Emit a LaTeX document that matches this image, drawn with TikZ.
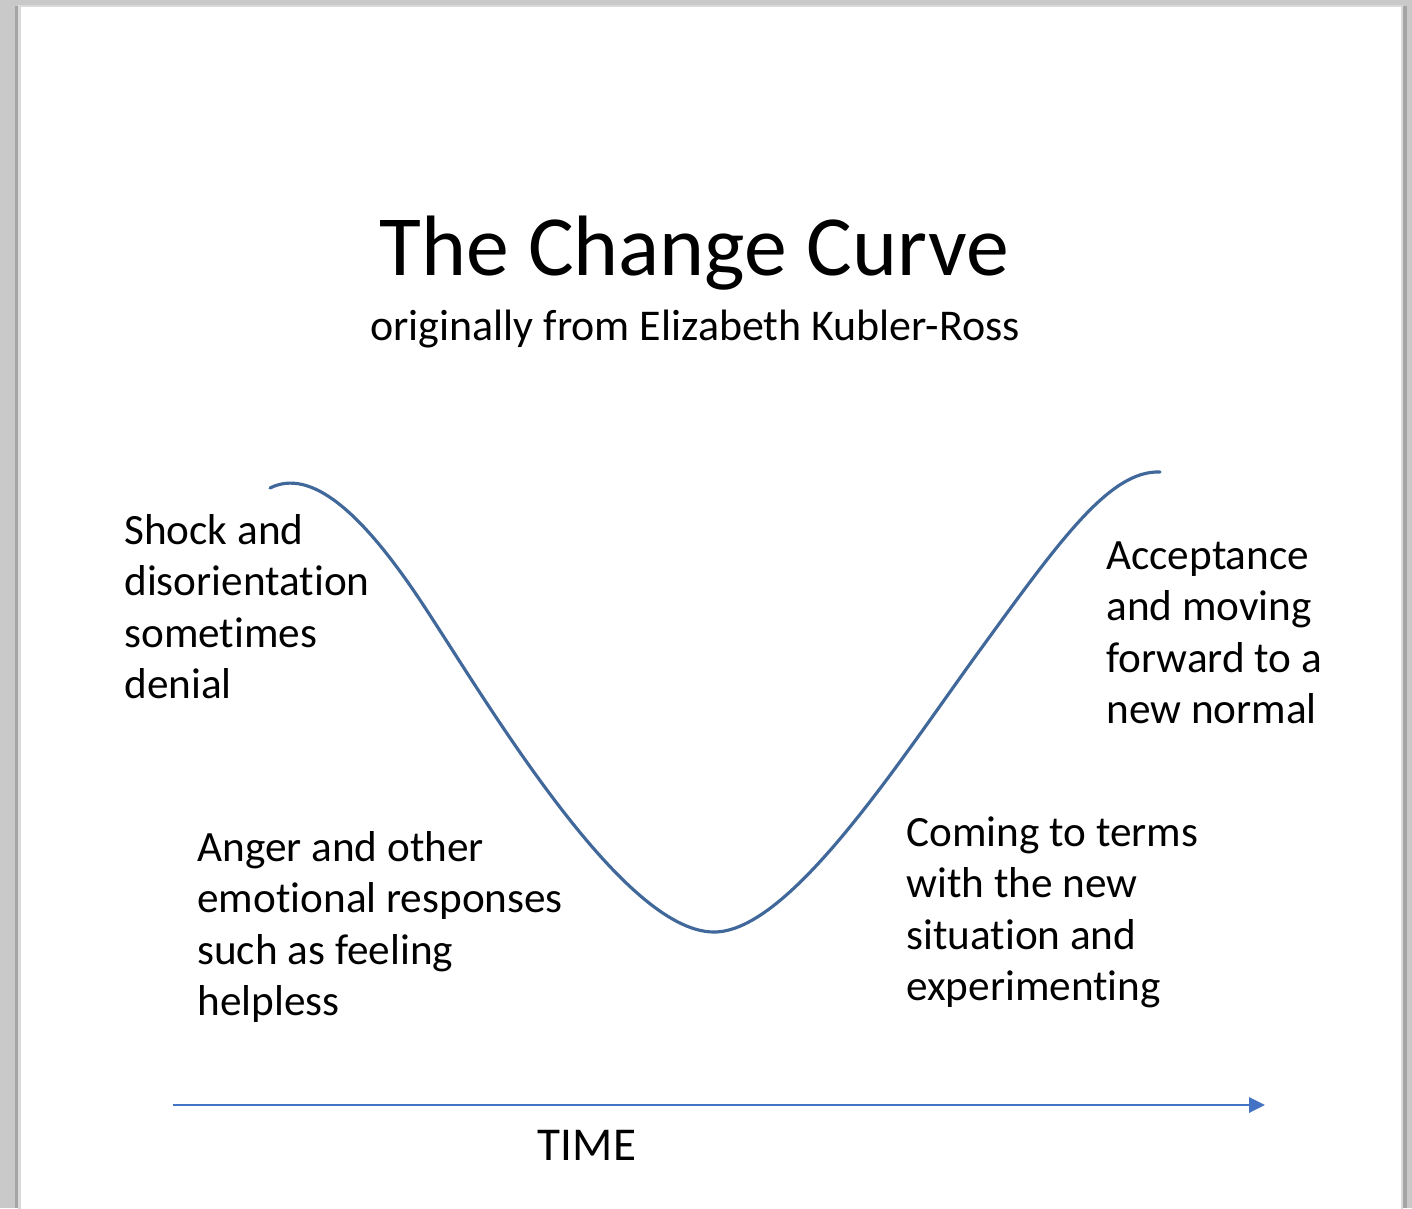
\documentclass[tikz,border=0pt]{standalone}
\usepackage{fontspec}
\setmainfont{Carlito}[Ligatures=NoCommon]
\usetikzlibrary{arrows.meta}

\definecolor{deskgray}{HTML}{C8C9C8}
\definecolor{shadowgray}{HTML}{A4A5A4}
\definecolor{pageedge}{HTML}{DADADA}
\definecolor{curveblue}{HTML}{41689A}
\definecolor{axisblue}{HTML}{4472C4}

\begin{document}
\begin{tikzpicture}[
  x=0.02cm, y=-0.02cm,
  label/.style={anchor=north west, inner sep=0pt, align=left,
    font=\fontsize{24.6}{29.3}\selectfont},
  curve/.style={draw=curveblue, line width=1.8pt, line cap=round},
  timeline/.style={draw=axisblue, line width=1.6pt,
    -{Triangle[length=9pt, width=8.5pt]}}
]
\useasboundingbox (0,0) rectangle (1412,1208);

% Page
\fill[deskgray] (0,0) rectangle (1412,1208);
\fill[shadowgray] (15,6) rectangle (1407,1208);
\fill[white, draw=pageedge, line width=1.2pt] (19.5,6) rectangle (1402,1230);

% Title
\node[anchor=base, inner sep=0pt, font=\fontsize{48.8}{58}\selectfont]
  (title) at (694,275) {The Change Curve};
\node[anchor=base, inner sep=0pt, font=\fontsize{25}{30}\selectfont]
  (subtitle) at (695,340) {originally from Elizabeth Kubler-Ross};

% Curve
\draw[curve] (270,488) .. controls (310,468) and (360,510) .. (420,600)
  .. controls (480,690) and (620,932) .. (714,932)
  .. controls (790,932) and (900,760) .. (980,650)
  .. controls (1060,540) and (1110,470) .. (1160,472);

% Stages
\node[label] (shock) at (124,514) {Shock and\\disorientation\\sometimes\\denial};
\node[label] (anger) at (197,831) {Anger and other\\emotional responses\\such as feeling\\helpless};
\node[label] (terms) at (906,816) {Coming to terms\\with the new\\situation and\\experimenting};
\node[label] (accept) at (1106,541) {Acceptance\\and moving\\forward to a\\new normal};

% Time axis
\coordinate (t0) at (173,1105);
\coordinate (t1) at (1265,1105);
\draw[timeline] (t0) -- (t1);
\node[anchor=base, inner sep=0pt, font=\fontsize{26.8}{32}\selectfont]
  (time) at (587,1160) {TIME};

\end{tikzpicture}
\end{document}
